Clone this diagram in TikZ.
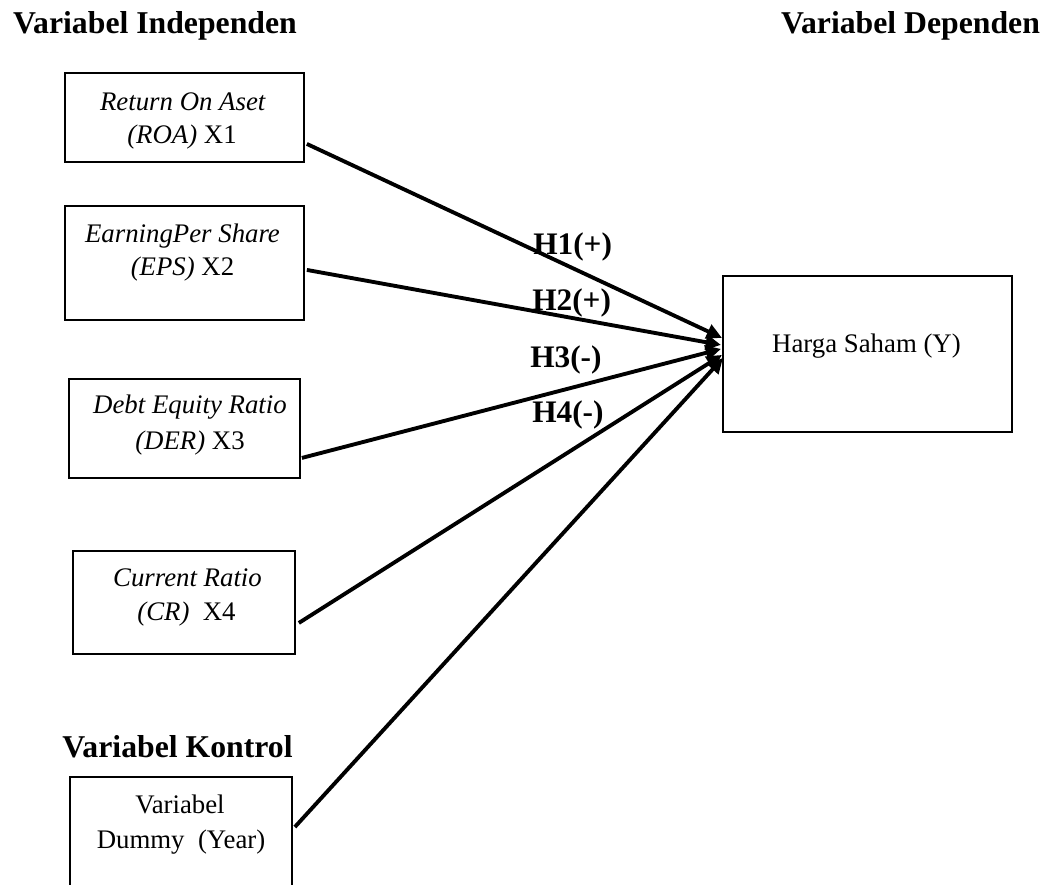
\documentclass[tikz,border=0pt]{standalone}
\usepackage{fontspec}
\setmainfont{Liberation Serif}
\usetikzlibrary{arrows.meta,calc}
\begin{document}
\begin{tikzpicture}[x=0.75pt,y=-0.75pt,
  box/.style={draw,line width=1.4pt,rectangle,inner sep=0pt,anchor=north west},
  ttl/.style={font=\fontsize{23.8}{28}\selectfont\bfseries,anchor=base,inner sep=0pt},
  txt/.style={font=\fontsize{20.1}{24}\selectfont,anchor=base,inner sep=0pt},
  hl/.style={font=\fontsize{23.5}{28}\selectfont\bfseries,anchor=base west,inner sep=0pt},
  arr/.style={line width=2.9pt,-{Triangle[length=11.5pt,width=11pt]}}]
\useasboundingbox (0,0) rectangle (1051,885);
\clip (0,0) rectangle (1051,885);
% titles
\node[ttl] (tind) at (155,33) {Variabel Independen};
\node[ttl] (tdep) at (910.5,33) {Variabel Dependen};
\node[ttl] (tkon) at (177.5,757) {Variabel Kontrol};
% boxes
\node[box,minimum width=179.25pt,minimum height=66.75pt] (roa) at (64,72) {};
\node[box,minimum width=179.25pt,minimum height=85.5pt] (eps) at (64,205) {};
\node[box,minimum width=173.25pt,minimum height=74.25pt] (der) at (68,378) {};
\node[box,minimum width=166.5pt,minimum height=77.25pt] (cr) at (72,550) {};
\node[box,minimum width=166.5pt,minimum height=93pt] (dum) at (69,776) {};
\node[box,minimum width=216.75pt,minimum height=117pt] (y) at (722,275) {};
% box texts
\node[txt] (roa1) at (183,110) {\textit{Return On Aset}};
\node[txt] (roa2) at (182,143) {\textit{(ROA)} X1};
\node[txt] (eps1) at (182.5,242) {\textit{EarningPer Share}};
\node[txt] (eps2) at (182.5,275) {\textit{(EPS)} X2};
\node[txt] (der1) at (190,413) {\textit{Debt Equity Ratio}};
\node[txt] (der2) at (190,449) {\textit{(DER)} X3};
\node[txt] (cr1) at (187.5,586) {\textit{Current Ratio}};
\node[txt] (cr2) at (186.5,620) {\textit{(CR)}\ \ X4};
\node[txt] (dum1) at (180,813) {Variabel};
\node[txt] (dum2) at (181,848) {Dummy\ \ (Year)};
\node[txt] (y1) at (866.5,352) {Harga Saham (Y)};
% arrows
\draw[arr] ($(roa.east)+(2,26.5)$) -- ($(y.west)+(0,-16)$);
\draw[arr] ($(eps.east)+(2,7)$) -- ($(y.west)+(-1,-9)$);
\draw[arr] ($(der.east)+(1,29.5)$) -- ($(y.west)+(-1,-5)$);
\draw[arr] ($(cr.east)+(3,20.5)$) -- ($(y.west)+(0,1)$);
\draw[arr] ($(dum.north east)+(2,51)$) -- ($(y.west)+(1,4)$);
% hypothesis labels
\node[hl] (h1) at (533,254) {H1(+)};
\node[hl] (h2) at (532,310) {H2(+)};
\node[hl] (h3) at (530,367) {H3(-)};
\node[hl] (h4) at (532,422) {H4(-)};
\end{tikzpicture}
\end{document}
